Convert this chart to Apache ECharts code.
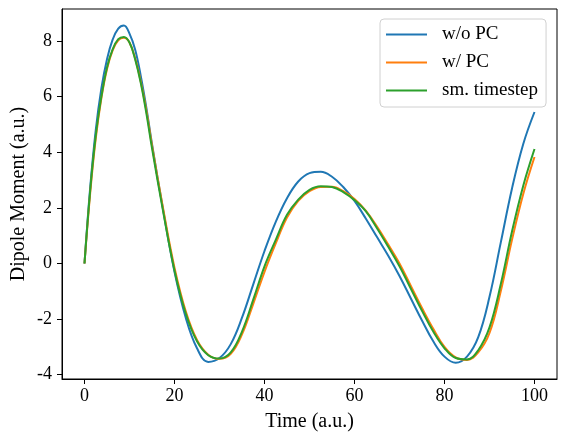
<!DOCTYPE html>
<html>
<head>
    <meta charset="utf-8">
    <title>Dipole Moment</title>
    <script src="https://cdn.jsdelivr.net/npm/echarts@6/dist/echarts.min.js"></script>
    <style>
        html, body { margin: 0; padding: 0; background: #fff; }
        #chart { width: 567px; height: 442px; }
    </style>
</head>
<body>
<div id="chart"></div>
<script>
    // time axis (a.u.): finer around the first peak, then every 2.5
    var times = [0, 1.25, 2.5, 3.75, 5, 6.25, 7.5, 8.75, 10, 11.25, 12.5, 13.75,
        15, 17.5, 20, 22.5, 25, 27.5, 30, 32.5, 35, 37.5, 40,
        42.5, 45, 47.5, 50, 52.5, 55, 57.5, 60, 62.5, 65, 67.5, 70, 72.5, 75, 77.5, 80,
        82.5, 85, 87.5, 90, 92.5, 95, 97.5, 100];

    var woPC = [0, 2.7, 4.8, 6.3, 7.35, 8.05, 8.45, 8.56, 8.27, 7.7, 6.75, 5.6,
        4.3, 1.9, -0.3, -1.95, -3.05, -3.54, -3.4, -2.9, -1.95, -0.75, 0.45,
        1.5, 2.35, 2.95, 3.25, 3.3, 3.12, 2.75, 2.25, 1.62, 0.95, 0.28, -0.45, -1.25, -2.05, -2.8, -3.35,
        -3.57, -3.35, -2.65, -1.2, 0.75, 2.7, 4.3, 5.45];

    var wPC = [0, 2.5, 4.5, 5.95, 7.0, 7.67, 8.03, 8.12, 7.95, 7.38, 6.55, 5.5,
        4.25, 1.95, -0.15, -1.72, -2.75, -3.28, -3.43, -3.25, -2.55, -1.45, -0.3,
        0.72, 1.65, 2.25, 2.6, 2.75, 2.76, 2.6, 2.32, 1.9, 1.33, 0.68, 0.0, -0.8, -1.6, -2.35, -3.0,
        -3.38, -3.47, -3.2, -2.5, -1.0, 0.85, 2.5, 3.83];

    var smStep = [0, 2.6, 4.6, 6.0, 7.05, 7.7, 8.07, 8.15, 7.95, 7.35, 6.5, 5.4,
        4.15, 1.85, -0.25, -1.8, -2.8, -3.3, -3.42, -3.2, -2.45, -1.3, -0.1,
        0.85, 1.75, 2.3, 2.65, 2.78, 2.75, 2.57, 2.28, 1.88, 1.27, 0.6, -0.1, -0.9, -1.7, -2.45, -3.05,
        -3.4, -3.45, -3.12, -2.3, -0.75, 1.15, 2.8, 4.12];

    var xTicks = [0, 20, 40, 60, 80, 100];
    var yTicks = [-4, -2, 0, 2, 4, 6, 8];

    function pairs(ys) {
        return times.map(function (t, i) { return [t, ys[i]]; });
    }

    var font = 'Liberation Serif';
    // plain line as legend icon (the empty sub-paths only keep the box 41x14)
    var lineIcon = 'path://M0,0 L0,0 Z M0,6 L41,6 L41,8 L0,8 Z M0,14 L0,14 Z';

    var chart = echarts.init(document.getElementById('chart'));

    var option = {
        animation: false,
        color: ['#1f77b4', '#ff7f0e', '#2ca02c'],
        grid: {
            left: 62, right: 10, top: 9, bottom: 63,
            show: true, borderColor: '#000', borderWidth: 1,
            containLabel: false,
            outerBoundsMode: 'none'
        },
        legend: {
            left: 380, top: 19,
            orient: 'vertical',
            icon: lineIcon,
            itemWidth: 41, itemHeight: 14, itemGap: 9,
            padding: [6, 8, 7, 6],
            borderColor: '#d0d0d0', borderWidth: 1, borderRadius: 4,
            backgroundColor: 'rgba(255,255,255,0.8)',
            textStyle: { fontFamily: font, fontSize: 19, color: '#000', padding: [0, 0, 0, 10] },
            data: ['w/o PC', 'w/ PC', 'sm. timestep']
        },
        xAxis: {
            type: 'value', min: -5, max: 105,
            name: 'Time (a.u.)', nameLocation: 'middle', nameGap: 33,
            nameMoveOverlap: false,
            nameTextStyle: { fontFamily: font, fontSize: 20, color: '#000' },
            axisLine: { onZero: false, lineStyle: { color: '#000' } },
            axisTick: { length: 5, lineStyle: { color: '#000' }, customValues: xTicks },
            axisLabel: { fontFamily: font, fontSize: 18, color: '#000', margin: 8, customValues: xTicks },
            splitLine: { show: false }
        },
        yAxis: {
            type: 'value', min: -4.155, max: 9.155,
            name: 'Dipole Moment (a.u.)', nameLocation: 'middle', nameGap: 33,
            nameMoveOverlap: false,
            nameTextStyle: { fontFamily: font, fontSize: 20, color: '#000' },
            axisLine: { show: true, onZero: false, lineStyle: { color: '#000' } },
            axisTick: { show: true, length: 5, lineStyle: { color: '#000' }, customValues: yTicks },
            axisLabel: { fontFamily: font, fontSize: 18, color: '#000', margin: 10, customValues: yTicks },
            splitLine: { show: false }
        },
        series: [
            { name: 'w/o PC', type: 'line', data: pairs(woPC), symbol: 'none', smooth: 0.4, lineStyle: { width: 2 } },
            { name: 'w/ PC', type: 'line', data: pairs(wPC), symbol: 'none', smooth: 0.4, lineStyle: { width: 2 } },
            { name: 'sm. timestep', type: 'line', data: pairs(smStep), symbol: 'none', smooth: 0.4, lineStyle: { width: 2 } }
        ]
    };

    chart.setOption(option);
</script>
</body>
</html>
